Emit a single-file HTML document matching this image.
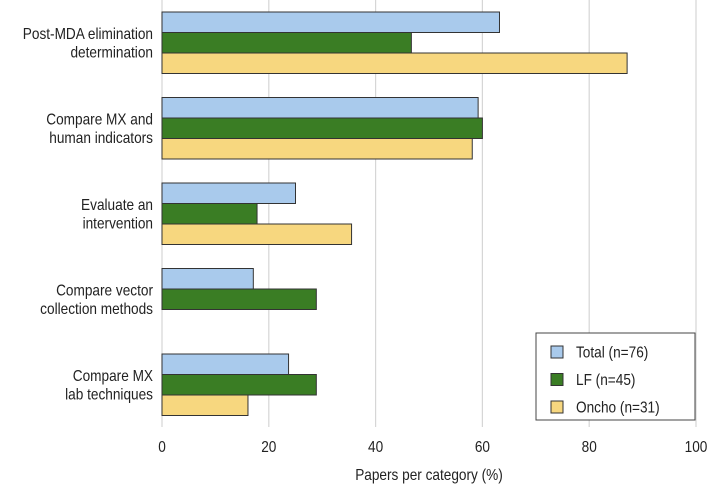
<!DOCTYPE html>
<html><head><meta charset="utf-8"><style>
body{margin:0;background:#fff;}
svg{display:block;font-family:"Liberation Sans",sans-serif;}
</style></head><body>
<svg id="c" width="709" height="490"></svg>
<script>
const categories=[["Post-MDA elimination","determination"],["Compare MX and","human indicators"],["Evaluate an","intervention"],["Compare vector","collection methods"],["Compare MX","lab techniques"]];
const seriesNames=["Total (n=76)","LF (n=45)","Oncho (n=31)"];
const totalValues=[63.2,59.2,25.0,17.1,23.7];
const lfValues=[46.7,60.0,17.8,28.9,28.9];
const onchoValues=[87.1,58.1,35.5,0,16.1];
const ticks=[0,20,40,60,80,100];
const colors=["#a9caec","#3a7d24","#f7d77f"];
const svg=document.getElementById('c');
const NS="http://www.w3.org/2000/svg";
const x0=162,x1=696;
const xs=v=>x0+(x1-x0)*v/100;
const groupTop=i=>12+i*85.5;
const barH=20.5;
const SX=0.88;
function mk(t,a,txt,parent){const e=document.createElementNS(NS,t);for(const k in a)e.setAttribute(k,a[k]);if(txt!==undefined)e.textContent=txt;(parent||svg).appendChild(e);return e;}
function txt(x,y,anchor,content){const g=mk('g',{transform:'translate('+x+','+y+') scale('+SX+',1)'});const t=mk('text',{x:0,y:0,'text-anchor':anchor,'font-size':15.5,fill:'#222'},content,g);return t;}
ticks.forEach(t=>{
 if(t>0){const g=mk('line',{x1:xs(t),x2:xs(t),y1:0,y2:427,stroke:'#d6d6d6','stroke-width':1.2});
 
 }
 const l=txt(xs(t),452,'middle',t);
 
 
});
const axis=mk('line',{x1:x0,x2:x0,y1:0,y2:427,stroke:'#d6d6d6','stroke-width':1.2});


const series=[totalValues,lfValues,onchoValues];
categories.forEach((c,i)=>{
 series.forEach((vals,s)=>{
  const v=vals[i];
  if(v>0){const r=mk('rect',{x:x0,y:groupTop(i)+s*barH,width:xs(v)-x0,height:barH,fill:colors[s],stroke:'#333','stroke-width':1});
  
  }
 });
 const cy=groupTop(i)+1.5*barH;
 const t=txt(153,cy-4,'end');
 
 
 c.forEach((ln,k)=>{const ts=document.createElementNS(NS,'tspan');ts.setAttribute('x',0);ts.setAttribute('dy',k==0?0:19);ts.textContent=ln;t.appendChild(ts);});
});
const xt=txt(429,480,'middle','Papers per category (%)');


const lg=mk('rect',{x:536,y:333,width:159,height:87,fill:'#fff',stroke:'#444','stroke-width':1});


seriesNames.forEach((n,s)=>{
 const y=352+s*27.5;
 const sw=mk('rect',{x:551,y:y-6,width:12,height:12,fill:colors[s],stroke:'#333','stroke-width':1});
 
 
 const lt=txt(576,y+5.5,'start',n);
 
 
});
</script>
</body></html>
